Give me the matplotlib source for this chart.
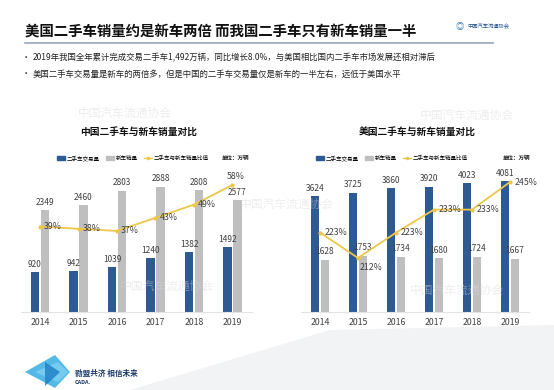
import matplotlib
matplotlib.use("Agg")
import matplotlib.pyplot as plt
from matplotlib.patches import Patch, Polygon
from matplotlib.lines import Line2D

plt.rcParams['font.family'] = ['Noto Sans CJK SC', 'DejaVu Sans']

# ---- data ----
years = ["2014", "2015", "2016", "2017", "2018", "2019"]
cn_used = [920, 942, 1039, 1240, 1382, 1492]
cn_new = [2349, 2460, 2803, 2888, 2808, 2577]
cn_ratio = [39, 38, 37, 43, 49, 58]
us_used = [3624, 3725, 3860, 3920, 4023, 4081]
us_new = [1628, 1753, 1734, 1680, 1724, 1667]
us_ratio = [223, 212, 223, 233, 233, 245]

title = "美国二手车销量约是新车两倍 而我国二手车只有新车销量一半"
bullets = ["2019年我国全年累计完成交易二手车1,492万辆，同比增长8.0%，与美国相比国内二手车市场发展还相对滞后",
           "美国二手车交易量是新车的两倍多，但是中国的二手车交易量仅是新车的一半左右，远低于美国水平"]
legend_labels = ["二手车交易量", "新车销量", "二手车与新车销量比值"]

DARK = "#2E5A93"
GREY = "#BFBFBF"
GOLD = "#EEC64A"
TXT = "#404040"

W, H = 554, 390
fig = plt.figure(figsize=(W / 100, H / 100), dpi=100)
fig.patch.set_facecolor("white")


def px(x, y):
    return x / W, 1 - y / H


# soft grey swoosh in the background, bottom right
fig.add_artist(Polygon([px(*p) for p in [(130, 390), (330, 330), (554, 325), (554, 390)]],
                       closed=True, color="#F2F3F5", lw=0, zorder=0))

# header
fig.text(*px(25, 32), title, fontsize=10.4, fontweight="bold", va="center", ha="left", color="#111111")
fig.add_artist(Line2D([25 / W, 493 / W], [1 - 43 / H] * 2, color="#9AA6BE", lw=1.2))
fig.text(*px(467, 27), "中国汽车流通协会", fontsize=3.8, color="#1F4E8C", va="center", ha="left")
fig.text(*px(460, 27), "◎", fontsize=6, color="#2E75B6", va="center", ha="center")
for i, b in enumerate(bullets):
    y = 58 + i * 16
    fig.text(*px(22, y), "•", fontsize=6, va="center", color="#222222")
    fig.text(*px(33, y), b, fontsize=6.05, va="center", ha="left", color="#222222")

# faint watermarks
for (x, y) in [(78, 113), (420, 115), (240, 204), (120, 286), (410, 290)]:
    fig.text(*px(x, y), "中国汽车流通协会", fontsize=8.5, color="#D8D8D8", alpha=0.45,
             va="center", ha="left")

# footer decoration
for pts, c in [([(25, 372), (55, 355), (70, 372), (55, 388)], "#29A8E0"),
               ([(35, 372), (58, 362), (68, 372), (58, 382)], "#7FD0F2"),
               ([(45, 362), (60, 372), (45, 386)], "#1C7FC4")]:
    fig.add_artist(Polygon([px(*p) for p in pts], closed=True, color=c, alpha=0.8, lw=0))
fig.text(*px(75, 373), "勠盟共济 相信未来", fontsize=5.5, fontweight="bold", color="#1F3A68", va="center")
fig.text(*px(75, 382), "CADA.", fontsize=4, fontweight="bold", color="#1F3A68", va="center")


def draw(x0, x1, used, new, ratio, rlim, ymax, name, leg_x, unit_x, pos):
    left, bottom = px(x0, 312)
    ax = fig.add_axes([left, bottom, (x1 - x0) / W, (312 - 165) / H])
    xs = range(len(years))
    b1 = ax.bar([x - 0.13 for x in xs], used, width=0.21, color=DARK)
    b2 = ax.bar([x + 0.13 for x in xs], new, width=0.21, color=GREY)
    for bars, vals in [(b1, used), (b2, new)]:
        for r, v in zip(bars, vals):
            ax.annotate(str(v), (r.get_x() + r.get_width() / 2, v), xytext=(0, 2.5),
                        textcoords="offset points", ha="center", va="bottom", fontsize=6, color=TXT)
    ax.set_xlim(-0.5, len(years) - 0.5)
    ax.set_ylim(0, ymax)
    ax.set_xticks(list(xs), years)
    ax.tick_params(axis="x", length=0, labelsize=6.3, labelcolor=TXT, pad=4)
    ax.set_yticks([])
    for s in ["top", "right", "left"]:
        ax.spines[s].set_visible(False)
    ax.spines["bottom"].set_color("#E3E3E3")
    ax.patch.set_alpha(0)

    ax2 = ax.twinx()
    ax2.plot(list(xs), ratio, color=GOLD, lw=1.3, marker="o", ms=2)
    ax2.set_ylim(*rlim)
    ax2.axis("off")
    for i, v in enumerate(ratio):
        off, ha, va = pos.get(i, ((3, 0), "left", "center"))
        ax2.annotate(f"{v}%", (i, v), xytext=off, textcoords="offset points",
                     ha=ha, va=va, fontsize=6.3, color=TXT)

    fig.text(*px((x0 + x1) / 2 + 2, 132), name, fontsize=7, fontweight="bold",
             ha="center", va="center", color="#111111")
    handles = [Patch(color=DARK), Patch(color=GREY),
               Line2D([], [], color=GOLD, lw=1, marker="o", ms=1.5)]
    fig.legend(handles, legend_labels, loc="center left", bbox_to_anchor=px(leg_x, 158),
               ncol=3, frameon=False, fontsize=4, handlelength=1.4, handleheight=0.5,
               handletextpad=0.3, columnspacing=1.2, borderpad=0, borderaxespad=0)
    fig.text(*px(unit_x, 158), "单位：万辆", fontsize=4, fontweight="bold", va="center", color="#222222")
    return ax


draw(20.75, 251.75, cn_used, cn_new, cn_ratio, (0, 67.1), 3395, "中国二手车与新车销量对比",
     57, 222, {5: ((2, 3), "center", "bottom")})
draw(301, 529, us_used, us_new, us_ratio, (188.5, 252.4), 4594, "美国二手车与新车销量对比",
     316, 503, {1: ((1, -4), "left", "top")})

fig.savefig("out.png", dpi=100)
